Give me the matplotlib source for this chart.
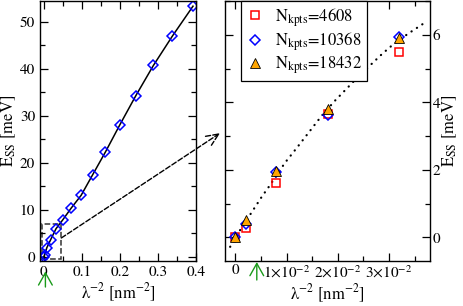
import matplotlib.pyplot as plt
from matplotlib.patches import Rectangle
from matplotlib.ticker import MultipleLocator

plt.rcParams['font.family'] = ['STIXGeneral', 'DejaVu Serif']
plt.rcParams['mathtext.fontset'] = 'stix'
plt.rcParams['font.size'] = 11

# left panel: all wavelengths (N_kpts = 10368)
lam2_all = [0.0, 0.002, 0.008, 0.018, 0.032, 0.050, 0.072, 0.098, 0.128,
            0.162, 0.200, 0.242, 0.288, 0.338, 0.392]
ess_all = [0.0, 0.39, 1.94, 3.64, 5.96, 7.88, 10.36, 13.06, 17.4,
           22.3, 28.1, 34.3, 40.7, 46.96, 53.3]

# right panel: zoom on the long wavelengths, three k-point meshes
lam2_zoom = [0.0, 0.002, 0.008, 0.018, 0.032]
ess_4608 = [0.0, 0.29, 1.60, 3.66, 5.48]
ess_10368 = [0.0, 0.40, 1.93, 3.62, 5.93]
ess_18432 = [0.0, 0.52, 1.97, 3.79, 5.89]
nkpts = ['4608', '10368', '18432']

# dotted guide line
guide_x = [-0.001, 0.001, 0.0031, 0.0052, 0.0067, 0.0097, 0.012, 0.0144,
           0.0168, 0.0194, 0.024, 0.0287, 0.0307, 0.0337, 0.0371]
guide_y = [-0.28, 0.23, 0.72, 1.21, 1.53, 2.21, 2.65, 3.12,
           3.59, 4.04, 4.76, 5.44, 5.70, 6.03, 6.37]

lam2_mark = 0.0042   # green arrows
zoom_box = (-0.006, -0.5, 0.052, 7.5)

zoom_xticks = [0, 0.01, 0.02, 0.03]
zoom_xlabels = ['0', '1×10$^{-2}$', '2×10$^{-2}$', '3×10$^{-2}$']

fig = plt.figure(figsize=(4.63, 3.06), dpi=100)
ax1 = fig.add_axes([0.0864, 0.147, 0.337, 0.8497])
ax2 = fig.add_axes([0.486, 0.147, 0.4428, 0.8497])

# ---- left
ax1.plot(lam2_all, ess_all, '-', color='k', lw=1.1)
ax1.plot(lam2_all, ess_all, 'D', mfc='none', mec='blue', ms=5.0, mew=1.1)
ax1.add_patch(Rectangle(zoom_box[:2], zoom_box[2], zoom_box[3], fill=False,
                        ls='--', lw=1.1, ec='#333333'))
ax1.set_xlim(-0.01, 0.4)
ax1.set_ylim(-0.9, 54.4)
ax1.set_xticks([0, 0.1, 0.2, 0.3, 0.4])
ax1.set_xticklabels(['0', '0.1', '0.2', '0.3', '0.4'])
ax1.xaxis.set_minor_locator(MultipleLocator(0.05))
ax1.yaxis.set_major_locator(MultipleLocator(10))
ax1.yaxis.set_minor_locator(MultipleLocator(5))
ax1.set_xlabel('λ$^{-2}$ [nm$^{-2}$]', labelpad=2, fontsize=12)
ax1.set_ylabel('E$_{\\rm SS}$ [meV]', labelpad=1, fontsize=12)

# ---- right
ax2.plot(guide_x, guide_y, color='k', lw=1.6, ls=(0, (0.1, 2.8)),
         dash_capstyle='round')
h1, = ax2.plot(lam2_zoom, ess_4608, 's', mfc='none', mec='red', ms=6.0, mew=1.1)
h2, = ax2.plot(lam2_zoom, ess_10368, 'D', mfc='none', mec='blue', ms=5.0, mew=1.1)
h3, = ax2.plot(lam2_zoom, ess_18432, '^', mfc='orange', mec='k', ms=7.5, mew=0.6)
ax2.set_xlim(-0.002, 0.038)
ax2.set_ylim(-0.7, 7)
ax2.set_xticks(zoom_xticks)
ax2.set_xticklabels(zoom_xlabels)
ax2.xaxis.set_minor_locator(MultipleLocator(0.005))
ax2.yaxis.set_major_locator(MultipleLocator(2))
ax2.yaxis.set_minor_locator(MultipleLocator(1))
ax2.yaxis.tick_right()
ax2.yaxis.set_label_position('right')
ax2.set_xlabel('λ$^{-2}$ [nm$^{-2}$]', labelpad=2, fontsize=12)
ax2.set_ylabel('E$_{\\rm SS}$ [meV]', labelpad=0, fontsize=12)

leg = ax2.legend([h1, h2, h3], ['N$_{\\rm kpts}$=' + n for n in nkpts],
                 loc='upper left', bbox_to_anchor=(0.08, 1.0), borderaxespad=0,
                 fancybox=False, edgecolor='k', framealpha=1,
                 handlelength=1.0, handletextpad=0.7, labelspacing=0.1,
                 borderpad=0.3, fontsize=12)
leg.get_frame().set_linewidth(0.9)

for ax in (ax1, ax2):
    ax.tick_params(which='both', direction='in', top=True, left=True, right=True,
                   width=0.9)
    ax.tick_params(which='major', length=6)
    ax.tick_params(which='minor', length=3.5)
    for s in ax.spines.values():
        s.set_linewidth(1.0)
ax2.tick_params(labelleft=False, labelright=True, pad=2)

# green arrows under both x axes
green_arrow = dict(arrowstyle='->,head_width=0.45,head_length=0.8',
                   color='#1a9a1a', lw=1.0, shrinkA=0, shrinkB=0)
ax1.annotate('', xy=(lam2_mark, -0.04), xycoords=('data', 'axes fraction'),
             xytext=(lam2_mark, -0.1), annotation_clip=False,
             arrowprops=green_arrow)
ax2.annotate('', xy=(lam2_mark, -0.004), xycoords=('data', 'axes fraction'),
             xytext=(lam2_mark, -0.073), annotation_clip=False,
             arrowprops=green_arrow)

# dashed arrow from zoom box to right panel
ax1.annotate('', xy=(-0.024, 0.492), xycoords=ax2.transAxes,
             xytext=(zoom_box[0] + zoom_box[2], 4.0), textcoords='data',
             annotation_clip=False,
             arrowprops=dict(arrowstyle='->,head_width=0.35,head_length=0.8',
                             color='k', lw=1.0, ls='--', shrinkA=0, shrinkB=0))

fig.savefig('out.png', dpi=100)
